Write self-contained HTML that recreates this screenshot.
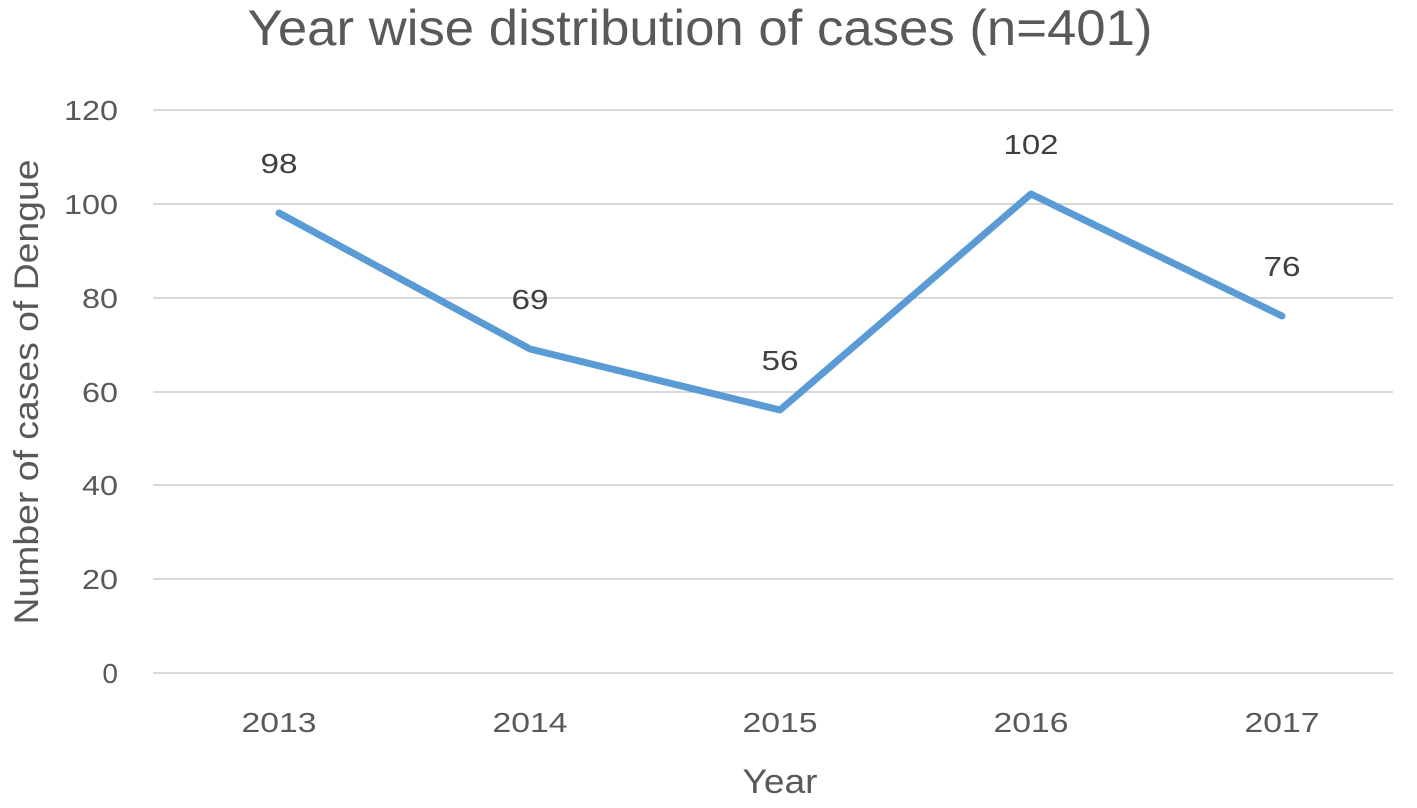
<!DOCTYPE html>
<html><head><style>
html,body{margin:0;padding:0;background:#fff;}
</style></head><body>
<svg width="1417" height="803" xmlns="http://www.w3.org/2000/svg" font-family="Liberation Sans, sans-serif">
<rect width="1417" height="803" fill="#fff"/>
<text x="700" y="45" font-size="50" fill="#595959" text-anchor="middle" textLength="905" lengthAdjust="spacingAndGlyphs">Year wise distribution of cases (n=401)</text>
<g stroke="#d9d9d9" stroke-width="2">
<line x1="153" x2="1393" y1="110" y2="110"/>
<line x1="153" x2="1393" y1="204" y2="204"/>
<line x1="153" x2="1393" y1="298" y2="298"/>
<line x1="153" x2="1393" y1="392" y2="392"/>
<line x1="153" x2="1393" y1="485" y2="485"/>
<line x1="153" x2="1393" y1="579" y2="579"/>
<line x1="153" x2="1393" y1="673" y2="673"/>
</g>
<g font-size="28" fill="#595959" text-anchor="end">
<text x="118" y="120" textLength="54" lengthAdjust="spacingAndGlyphs">120</text>
<text x="118" y="214" textLength="54" lengthAdjust="spacingAndGlyphs">100</text>
<text x="118" y="308" textLength="36" lengthAdjust="spacingAndGlyphs">80</text>
<text x="118" y="402" textLength="36" lengthAdjust="spacingAndGlyphs">60</text>
<text x="118" y="495" textLength="36" lengthAdjust="spacingAndGlyphs">40</text>
<text x="118" y="589" textLength="36" lengthAdjust="spacingAndGlyphs">20</text>
<text x="118" y="683">0</text>
</g>
<g font-size="28" fill="#595959" text-anchor="middle">
<text x="279" y="732" textLength="75" lengthAdjust="spacingAndGlyphs">2013</text>
<text x="530" y="732" textLength="75" lengthAdjust="spacingAndGlyphs">2014</text>
<text x="780" y="732" textLength="75" lengthAdjust="spacingAndGlyphs">2015</text>
<text x="1031" y="732" textLength="75" lengthAdjust="spacingAndGlyphs">2016</text>
<text x="1282" y="732" textLength="75" lengthAdjust="spacingAndGlyphs">2017</text>
</g>
<text x="780" y="793" font-size="34" fill="#595959" text-anchor="middle" textLength="75" lengthAdjust="spacingAndGlyphs">Year</text>
<text transform="translate(38,392) rotate(-90)" font-size="34" fill="#595959" text-anchor="middle" textLength="465" lengthAdjust="spacingAndGlyphs">Number of cases of Dengue</text>
<polyline points="279,213 530,349 780,410 1031,194 1282,316" fill="none" stroke="#5b9bd5" stroke-width="7" stroke-linejoin="round" stroke-linecap="round"/>
<g font-size="28" fill="#404040" text-anchor="middle">
<text x="279" y="173" textLength="37" lengthAdjust="spacingAndGlyphs">98</text>
<text x="530" y="309" textLength="37" lengthAdjust="spacingAndGlyphs">69</text>
<text x="780" y="370" textLength="37" lengthAdjust="spacingAndGlyphs">56</text>
<text x="1031" y="154" textLength="55" lengthAdjust="spacingAndGlyphs">102</text>
<text x="1282" y="276" textLength="37" lengthAdjust="spacingAndGlyphs">76</text>
</g>
</svg>
</body></html>
